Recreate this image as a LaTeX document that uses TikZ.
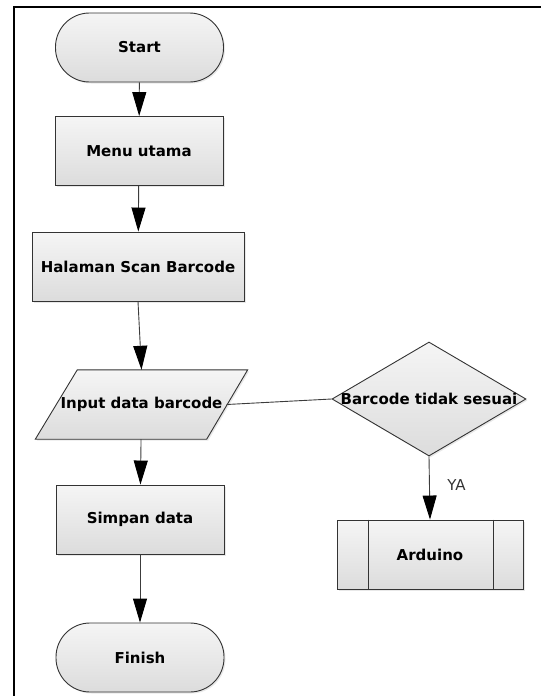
\documentclass[tikz,border=0pt]{standalone}
\usepackage{fontspec}
\setmainfont{DejaVu Sans}
\usetikzlibrary{shapes.geometric,arrows.meta,shadows,calc}
\definecolor{edgegray}{HTML}{333333}
\definecolor{linegray}{HTML}{3C3C3C}
\definecolor{filltop}{HTML}{F5F5F5}
\definecolor{fillbot}{HTML}{DCDCDC}
\begin{document}
\begin{tikzpicture}[x=1pt,y=-1pt,
  label text/.style={font=\fontsize{15}{17}\selectfont\bfseries, text=black, inner sep=0pt},
  skin/.style={draw=edgegray, line width=0.9pt, top color=filltop, bottom color=fillbot,
    drop shadow={opacity=0.18, shadow xshift=1.5pt, shadow yshift=-1.5pt}},
  base/.style={skin, label text},
  terminal/.style={base, rectangle, rounded corners=34pt, minimum width=168pt, minimum height=69pt},
  process/.style={base, rectangle, minimum height=69pt},
  decision/.style={base, diamond, minimum width=194pt, minimum height=114pt},
  flow/.style={draw=linegray, line width=0.9pt, -{Triangle[length=24pt,width=14pt,color=black]}},
  link/.style={draw=linegray, line width=0.9pt}
]
\useasboundingbox (0,0) rectangle (541,696);
% page frame (top and left edges)
\draw[line width=2pt, black] (14,696) -- (14,7) -- (541,7);

\node[terminal] (start) at (139.5,47.5) {Start};
\node[process, minimum width=168pt] (menu) at (139,151) {Menu utama};
\node[process, minimum width=212pt] (scan) at (138,266.5) {Halaman Scan Barcode};

% input/output parallelogram: the node is its mid-body, the slanted outline is drawn from its anchors
\node[label text, minimum width=170pt, minimum height=69pt] (input) at (141.5,404.5) {};
\path[skin] ($(input.north west)+(21,0)$) -- ($(input.north east)+(21,0)$)
  -- ($(input.south east)+(-20,0)$) -- ($(input.south west)+(-21,0)$) -- cycle;
\node[label text] (inputtext) at (input.center) {Input data barcode};

\node[process, minimum width=168pt] (save) at (140,519.5) {Simpan data};
\node[terminal] (finish) at (140,657.5) {Finish};

\node[decision] (check) at (429,399) {};
\node[label text] (checktext) at (check.center) {Barcode tidak sesuai};

\node[process, minimum width=186pt] (ard) at (430,554.5) {Arduino};
\draw[draw=edgegray, line width=0.9pt]
  ($(ard.north west)+(32,0)$) -- ($(ard.south west)+(32,0)$)
  ($(ard.north east)+(-30,0)$) -- ($(ard.south east)+(-30,0)$);

\draw[flow] (start) -- (menu);
\draw[flow] (menu) -- (scan);
\draw[flow] (scan.south) -- (input.north);
\draw[flow] (input) -- (save);
\draw[flow] (save) -- (finish);
\draw[link] (input.east) -- (check.west);
\draw[flow] (check.south) -- (ard.north);

\node[font=\fontsize{15}{17}\selectfont, text=black!80] (ya) at (456.5,485) {YA};
\end{tikzpicture}
\end{document}
